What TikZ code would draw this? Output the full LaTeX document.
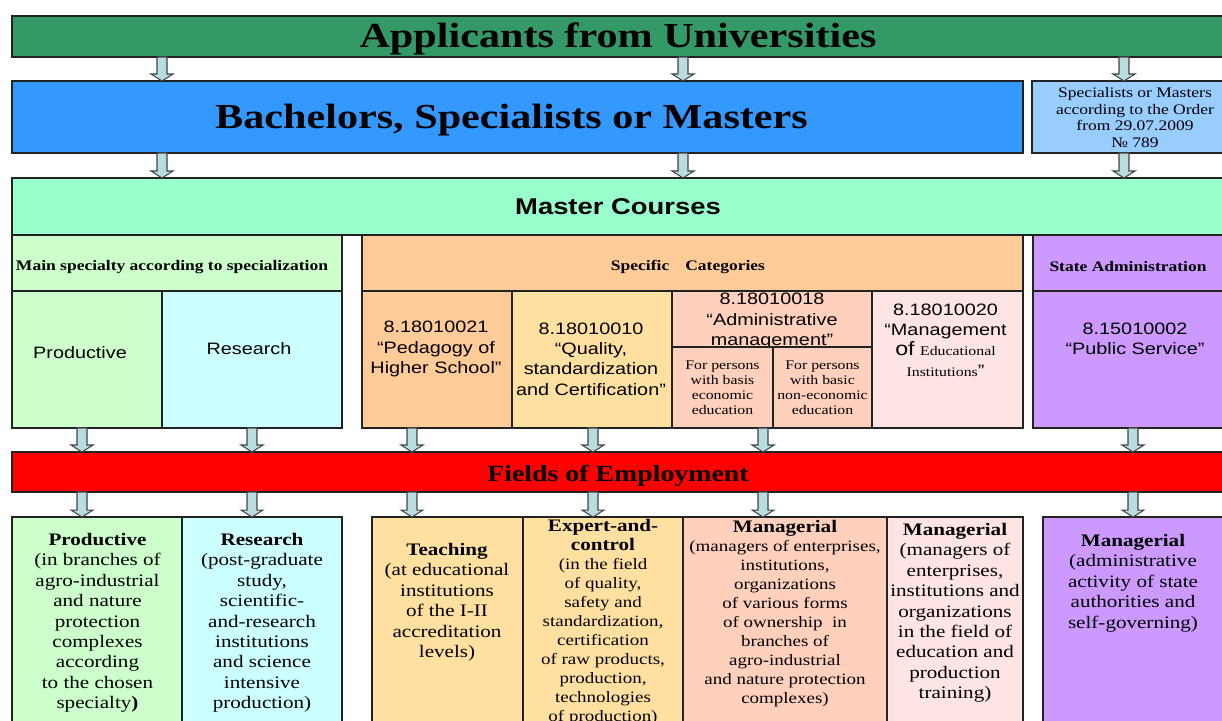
\documentclass[tikz,border=0pt]{standalone}
\usepackage{fontspec}
\setmainfont{Liberation Serif}[FakeStretch=1.2]
\setsansfont{Liberation Sans}[FakeStretch=1.2]
\usetikzlibrary{calc}
\definecolor{appgreen}{HTML}{339966}
\definecolor{bachblue}{HTML}{3399FF}
\definecolor{orderblue}{HTML}{99CCFF}
\definecolor{mint}{HTML}{99FFCC}
\definecolor{palegreen}{HTML}{CCFFCC}
\definecolor{palecyan}{HTML}{CCFFFF}
\definecolor{peach}{HTML}{FFCC99}
\definecolor{sand}{HTML}{FFE0A0}
\definecolor{salmon}{HTML}{FFD0BC}
\definecolor{blush}{HTML}{FFE4E4}
\definecolor{lilac}{HTML}{CC99FF}
\definecolor{arrowfill}{HTML}{B7DDE0}
\definecolor{boxline}{HTML}{222222}
\def\flowarrow(#1)(#2)(#3){\path (#1,0 |- #2.south) coordinate (fa-s) (#1,0 |- #3.north) coordinate (fa-e);
  \draw[flowarrow] ($(fa-s)+(-5,0)$) -- ($(fa-e)+(-5,-7)$) -- ($(fa-e)+(-11,-7)$) -- (fa-e) -- ($(fa-e)+(11,-7)$) -- ($(fa-e)+(5,-7)$) -- ($(fa-s)+(5,0)$) -- cycle;}

\tikzset{
  box/.style={draw=boxline, line width=0.8pt, inner sep=0pt, outer sep=0pt},
  flowarrow/.style={fill=arrowfill, draw=boxline!85, line width=0.6pt},
  titletxt/.style={font=\bfseries\fontsize{20}{24}\selectfont, text depth=0pt},
  mastertxt/.style={font=\sffamily\bfseries\fontsize{13}{15}\selectfont, text height=9.6pt, text depth=0pt},
  fieldtxt/.style={font=\bfseries\fontsize{13.2}{15}\selectfont, text height=11pt, text depth=0pt},
  headtxt/.style={font=\bfseries\fontsize{8.3}{10}\selectfont},
  codetxt/.style={font=\sffamily\fontsize{9.4}{11.5}\selectfont, align=center},
  ordertxt/.style={font=\fontsize{8.3}{9.6}\selectfont, align=center},
  tinytxt/.style={font=\fontsize{7.5}{8.5}\selectfont, align=center},
  jobtxt/.style={font=\fontsize{10}{11.6}\selectfont, align=center, anchor=north, inner sep=0pt},
  jobsmall/.style={font=\fontsize{9}{10.8}\selectfont, align=center, anchor=north, inner sep=0pt}
}

\begin{document}
\begin{tikzpicture}[x=0.02cm, y=-0.02cm]
			%%%%% START %%%%%
			\useasboundingbox (0,0) rectangle (1222,720);
			\clip (0,0) rectangle (1222,720);

			\node[box, fill=appgreen, minimum width=24.24cm, minimum height=0.82cm, titletxt, text height=12pt] (top) at (618,36.5) {Applicants from Universities};

			\node[box, fill=bachblue, minimum width=20.22cm, minimum height=1.44cm] (bach) at (517.5,117) {};
			\node[titletxt, text height=13.6pt] (bach-t) at (511.5,117) {Bachelors, Specialists or Masters};
			\node[box, fill=orderblue, minimum width=3.84cm, minimum height=1.44cm] (spec) at (1128,117) {};
			\node[ordertxt] (spec-t) at (1135,117.5) {Specialists or Masters\\according to the Order\\from 29.07.2009\\№ 789};

			\node[box, fill=mint, minimum width=24.24cm, minimum height=1.14cm, mastertxt] (master) at (618,206.5) {Master Courses};

			\node[box, fill=palegreen, minimum width=6.6cm, minimum height=1.12cm] (mainhd) at (177,263) {};
			\node[headtxt] (mainhd-t) at (172,267) {Main specialty according to specialization};
			\node[box, fill=palegreen, minimum width=3cm, minimum height=2.74cm] (prod) at (87,359.5) {};
			\node[codetxt] (prod-t) at (80,353) {Productive};
			\node[box, fill=palecyan, minimum width=3.6cm, minimum height=2.74cm] (res) at (252,359.5) {};
			\node[codetxt] (res-t) at (249,349) {Research};

			\node[box, fill=peach, minimum width=13.22cm, minimum height=1.12cm] (spechd) at (692.5,263) {};
			\node[headtxt] (spechd-t) at (688,267) {Specific\hspace{1.1em}Categories};
			\node[box, fill=peach, minimum width=3cm, minimum height=2.74cm] (ped) at (437,359.5) {};
			\node[codetxt] (ped-t) at (436,349) {8.18010021\\“Pedagogy of\\Higher School”};
			\node[box, fill=sand, minimum width=3.2cm, minimum height=2.74cm] (qual) at (592,359.5) {};
			\node[codetxt] (qual-t) at (591,359) {8.18010010\\“Quality,\\standardization\\and Certification”};
			\node[box, fill=salmon, minimum width=4cm, minimum height=1.12cm] (admhd) at (772,319) {};
			\node[codetxt] (admhd-t) at (772,321) {8.18010018\\“Administrative\\management”};
			\node[box, fill=salmon, minimum width=2.02cm, minimum height=1.62cm] (adma) at (722.5,387.5) {};
			\node[tinytxt] (adma-t) at (722.5,387.5) {For persons\\with basis\\economic\\education};
			\node[box, fill=salmon, minimum width=1.98cm, minimum height=1.62cm] (admb) at (822.5,387.5) {};
			\node[tinytxt] (admb-t) at (822.5,387.5) {For persons\\with basic\\non-economic\\education};
			\node[box, fill=blush, minimum width=3.02cm, minimum height=2.74cm] (edu) at (947.5,359.5) {};
			\node[codetxt] (edu-t) at (945.5,340) {8.18010020\\“Management\\{\fontsize{11}{11.5}\selectfont of} {\rmfamily\fontsize{7.5}{8.5}\selectfont Educational}\\{\rmfamily\fontsize{7.5}{8.5}\selectfont Institutions}”};

			\node[box, fill=lilac, minimum width=3.82cm, minimum height=1.12cm] (statehd) at (1128.5,263) {};
			\node[headtxt] (statehd-t) at (1128,267) {State Administration};
			\node[box, fill=lilac, minimum width=3.82cm, minimum height=2.74cm] (pub) at (1128.5,359.5) {};
			\node[codetxt] (pub-t) at (1135,338.5) {8.15010002\\ “Public Service”};

			\node[box, fill=red, minimum width=24.24cm, minimum height=0.8cm, fieldtxt] (emp) at (618,472) {Fields of Employment};

			\node[box, fill=palegreen, minimum width=3.4cm, minimum height=4.36cm] (jprod) at (97,626) {};
			\node[jobtxt] (jprod-t) at (97.5,533) {\textbf{Productive}\\(in branches of\\agro-industrial\\and nature\\protection\\complexes\\according\\to the chosen\\specialty\textbf{)}};
			\node[box, fill=palecyan, minimum width=3.2cm, minimum height=4.36cm] (jres) at (262,626) {};
			\node[jobtxt] (jres-t) at (262,533) {\textbf{Research}\\(post-graduate\\study,\\scientific-\\and-research\\institutions\\and science\\intensive\\production)};
			\node[box, fill=sand, minimum width=3.02cm, minimum height=4.36cm] (jteach) at (447.5,626) {};
			\node[jobtxt] (jteach-t) at (447,543) {\textbf{Teaching}\\(at educational\\institutions\\of the I-II\\accreditation\\levels)};
			\node[box, fill=sand, minimum width=3.2cm, minimum height=4.36cm] (jexp) at (603,626) {};
			\node[jobsmall] (jexp-t) at (603,519) {{\bfseries\fontsize{10}{11}\selectfont Expert-and-}\\{\bfseries\fontsize{10}{11}\selectfont control}\\(in the field\\of quality,\\safety and\\standardization,\\certification\\of raw products,\\production,\\technologies\\of production)};
			\node[box, fill=salmon, minimum width=4.08cm, minimum height=4.36cm] (jman) at (785,626) {};
			\node[jobsmall] (jman-t) at (785,520) {{\bfseries\fontsize{10}{11}\selectfont Managerial}\\(managers of enterprises,\\institutions,\\organizations\\of various forms\\of ownership\ \ in\\branches of\\agro-industrial\\and nature protection\\complexes)};
			\node[box, fill=blush, minimum width=2.72cm, minimum height=4.36cm] (jedu) at (955,626) {};
			\node[jobtxt] (jedu-t) at (955,523) {\textbf{Managerial}\\(managers of\\enterprises,\\institutions and\\organizations\\in the field of\\education and\\production\\training)};
			\node[box, fill=lilac, minimum width=3.62cm, minimum height=4.36cm] (jstate) at (1133.5,626) {};
			\node[jobtxt] (jstate-t) at (1133,534) {\textbf{Managerial}\\(administrative\\activity of state\\authorities and\\self-governing)};

			\flowarrow(162)(top)(bach)
			\flowarrow(683)(top)(bach)
			\flowarrow(1124)(top)(spec)
			\flowarrow(162)(bach)(master)
			\flowarrow(683)(bach)(master)
			\flowarrow(1124)(spec)(master)

			\flowarrow(82)(prod)(emp)
			\flowarrow(252)(res)(emp)
			\flowarrow(412)(ped)(emp)
			\flowarrow(593)(qual)(emp)
			\flowarrow(763)(adma)(emp)
			\flowarrow(1133)(pub)(emp)

			\flowarrow(82)(emp)(jprod)
			\flowarrow(252)(emp)(jres)
			\flowarrow(412)(emp)(jteach)
			\flowarrow(593)(emp)(jexp)
			\flowarrow(763)(emp)(jman)
			\flowarrow(1133)(emp)(jstate)
			%%%%% END %%%%%
\end{tikzpicture}
\end{document}
